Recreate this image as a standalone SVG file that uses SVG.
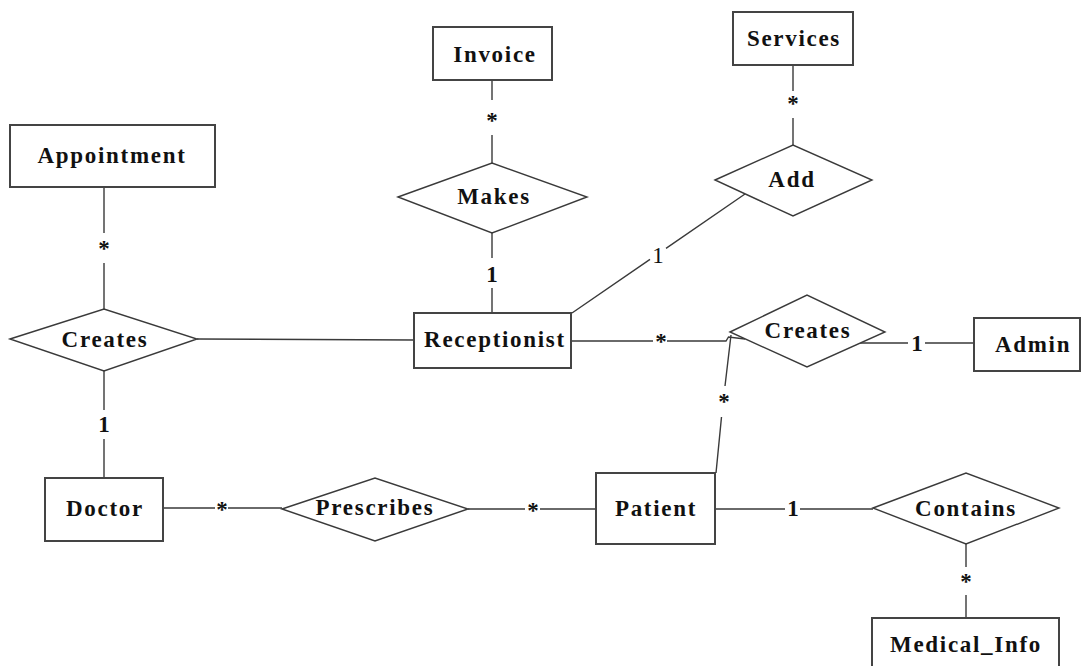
<svg xmlns="http://www.w3.org/2000/svg" width="1084" height="666" viewBox="0 0 1084 666">
  <style>
    .ent { fill: #ffffff; stroke: #444444; stroke-width: 2; }
    .rel { fill: #ffffff; stroke: #3a3a3a; stroke-width: 1.4; }
    .ln { fill: none; stroke: #3a3a3a; stroke-width: 1.4; }
    .lbl { font-family: "Liberation Serif", "Times New Roman", serif; font-weight: bold; font-size: 23px; letter-spacing: 1.7px; fill: #111111; text-anchor: middle; }
    .card { font-family: "Liberation Serif", "Times New Roman", serif; font-weight: bold; font-size: 23px; fill: #111111; text-anchor: middle; }
    .thin { font-weight: normal; }
  </style>
  <rect width="1084" height="666" fill="#ffffff"/>

  <!-- connectors, split around their cardinality labels -->
  <g id="connectors">
    <path class="ln" d="M104 187V233M104 263V309"/>
    <path class="ln" d="M104 371V410M104 439V478"/>
    <path class="ln" d="M197 339L414 340"/>
    <path class="ln" d="M492 80V100M492 135V163"/>
    <path class="ln" d="M492 233V258M492 288V313"/>
    <path class="ln" d="M793 65V91M793 118V145"/>
    <path class="ln" d="M745 194L666 248.4M650 259.4L572 313"/>
    <path class="ln" d="M571 341H653M667 341H726L728.5 337L745 339"/>
    <path class="ln" d="M716 473L721.5 417M725 386L731 335"/>
    <path class="ln" d="M860 343H908M925 343H974"/>
    <path class="ln" d="M163 508H215M228 508H282"/>
    <path class="ln" d="M468 509H525M540 509H596"/>
    <path class="ln" d="M715 509H785M800 509H873"/>
    <path class="ln" d="M966 544V567M966 595V618"/>

    <text class="card" x="104" y="256">*</text>
    <text class="card" x="104" y="432">1</text>
    <text class="card" x="492" y="128">*</text>
    <text class="card" x="492" y="282">1</text>
    <text class="card" x="793" y="111">*</text>
    <text class="card thin" x="658" y="263">1</text>
    <text class="card" x="661" y="349">*</text>
    <text class="card" x="724" y="409">*</text>
    <text class="card" x="917" y="351">1</text>
    <text class="card" x="222" y="517">*</text>
    <text class="card" x="533" y="518">*</text>
    <text class="card" x="793" y="516">1</text>
    <text class="card" x="966" y="589">*</text>
  </g>

  <!-- entities -->
  <g id="appointment">
    <rect class="ent" x="10" y="125" width="205" height="62"/>
    <text class="lbl" x="112" y="163">Appointment</text>
  </g>
  <g id="invoice">
    <rect class="ent" x="433" y="27" width="119" height="53"/>
    <text class="lbl" x="495" y="62">Invoice</text>
  </g>
  <g id="services">
    <rect class="ent" x="733" y="12" width="120" height="53"/>
    <text class="lbl" x="794" y="46">Services</text>
  </g>
  <g id="receptionist">
    <rect class="ent" x="414" y="313" width="157" height="55"/>
    <text class="lbl" x="495" y="347">Receptionist</text>
  </g>
  <g id="admin">
    <rect class="ent" x="974" y="318" width="106" height="53"/>
    <text class="lbl" x="1033" y="352">Admin</text>
  </g>
  <g id="doctor">
    <rect class="ent" x="45" y="478" width="118" height="63"/>
    <text class="lbl" x="105" y="516">Doctor</text>
  </g>
  <g id="patient">
    <rect class="ent" x="596" y="473" width="119" height="71"/>
    <text class="lbl" x="656" y="516">Patient</text>
  </g>
  <g id="medical_info">
    <rect class="ent" x="872" y="618" width="187" height="62"/>
    <text class="lbl" x="966" y="652">Medical_Info</text>
  </g>

  <!-- relationships -->
  <g id="creates_appointment">
    <polygon class="rel" points="10,339 104,309 197,339 104,371"/>
    <text class="lbl" x="105" y="347">Creates</text>
  </g>
  <g id="makes">
    <polygon class="rel" points="398,197 492,163 587,197 492,233"/>
    <text class="lbl" x="494" y="204">Makes</text>
  </g>
  <g id="add">
    <polygon class="rel" points="715,180 793,145 872,180 793,216"/>
    <text class="lbl" x="792" y="187">Add</text>
  </g>
  <g id="creates_admin">
    <polygon class="rel" points="730,332 807,295 885,332 807,367"/>
    <text class="lbl" x="808" y="338">Creates</text>
  </g>
  <g id="prescribes">
    <polygon class="rel" points="282,509 375,478 468,509 375,541"/>
    <text class="lbl" x="375" y="515">Prescribes</text>
  </g>
  <g id="contains">
    <polygon class="rel" points="873,508 966,473 1059,508 966,544"/>
    <text class="lbl" x="966" y="516">Contains</text>
  </g>
</svg>
